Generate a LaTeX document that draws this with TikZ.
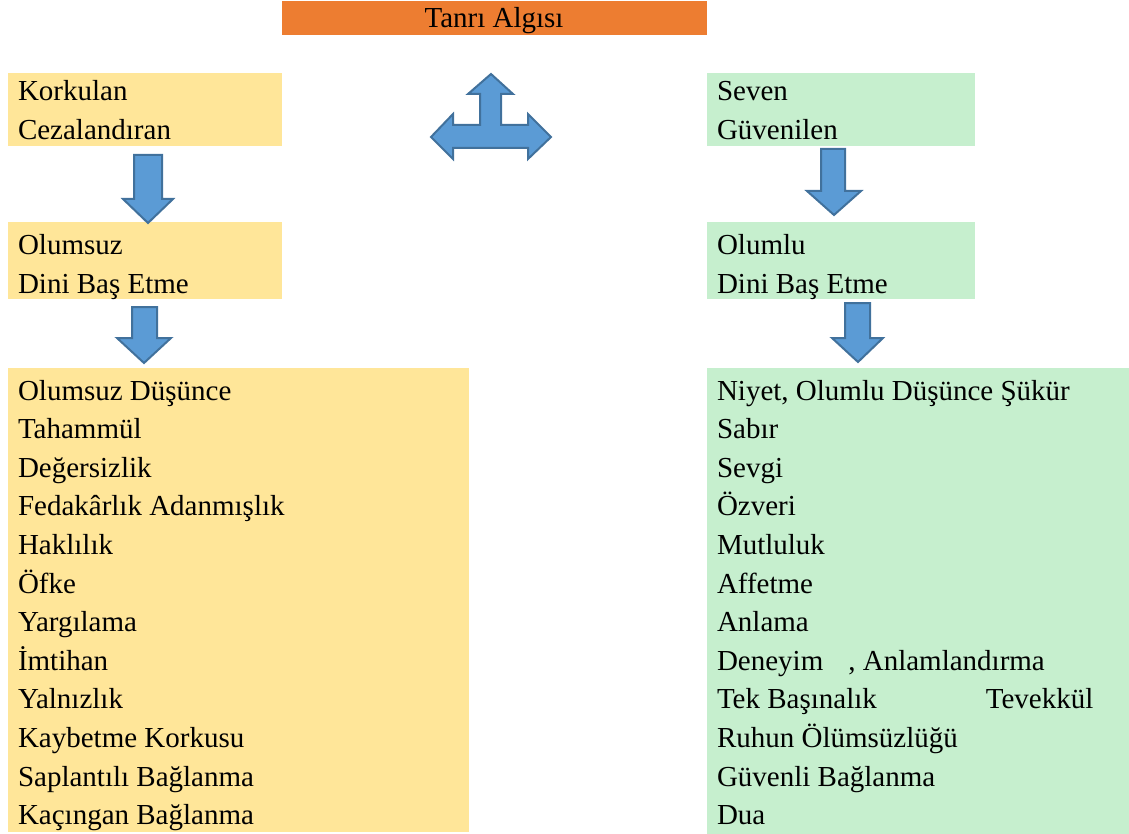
\documentclass[tikz,border=0pt]{standalone}
\usepackage{fontspec}
\setmainfont{Liberation Serif}
\definecolor{orangebar}{HTML}{ED7D31}
\definecolor{yellowbox}{HTML}{FFE699}
\definecolor{greenbox}{HTML}{C6EFCE}
\definecolor{arrowfill}{HTML}{5B9BD5}
\definecolor{arrowline}{HTML}{41719C}
\tikzset{
  box/.style={draw=none, inner sep=0pt, outer sep=0pt, anchor=north west},
  ybox/.style={box, fill=yellowbox},
  gbox/.style={box, fill=greenbox},
  txt/.style={inner sep=0pt, outer sep=0pt, anchor=base west, font=\fontsize{29}{34}\selectfont},
  blockarrow/.style={fill=arrowfill, draw=arrowline, line width=2pt, line join=miter}
}
\begin{document}
\begin{tikzpicture}[x=1pt,y=-1pt]
\useasboundingbox (0,0) rectangle (1129,834);
% title
\node[box, fill=orangebar, minimum width=425pt, minimum height=34pt] (title) at (282,1) {};
\node[txt, anchor=base] (titlet) at (494,28) {Tanrı Algısı};
% boxes
\node[ybox, minimum width=274pt, minimum height=73pt] (L1) at (8,73) {};
\node[gbox, minimum width=268pt, minimum height=73pt] (R1) at (707,73) {};
\node[ybox, minimum width=274pt, minimum height=77pt] (L2) at (8,222) {};
\node[gbox, minimum width=268pt, minimum height=77pt] (R2) at (707,222) {};
\node[ybox, minimum width=461pt, minimum height=464pt] (L3) at (8,368) {};
\node[gbox, minimum width=422pt, minimum height=466pt] (R3) at (707,368) {};
% texts
\node[txt] (L1a) at (18,101) {Korkulan};
\node[txt] (L1b) at (18,139.5) {Cezalandıran};
\node[txt] (R1a) at (717,101) {Seven};
\node[txt] (R1b) at (717,139.5) {Güvenilen};
\node[txt] (L2a) at (18,254.5) {Olumsuz};
\node[txt] (L2b) at (18,293) {Dini Baş Etme};
\node[txt] (R2a) at (717,254.5) {Olumlu};
\node[txt] (R2b) at (717,293) {Dini Baş Etme};
\foreach \t [count=\i] in {Olumsuz Düşünce, Tahammül, Değersizlik, Fedakârlık Adanmışlık, Haklılık, Öfke, Yargılama, İmtihan, Yalnızlık, Kaybetme Korkusu, Saplantılı Bağlanma, Kaçıngan Bağlanma}
  \node[txt] (L3t\i) at (18,{400+(\i-1)*38.6}) {\t};
\foreach \t [count=\i] in {{Niyet, Olumlu Düşünce Şükür}, Sabır, Sevgi, Özveri, Mutluluk, Affetme, Anlama, {Deneyim\hspace*{25pt}, Anlamlandırma}, {Tek Başınalık\hspace*{109pt}Tevekkül}, Ruhun Ölümsüzlüğü, Güvenli Bağlanma, Dua}
  \node[txt] (R3t\i) at (717,{400+(\i-1)*38.6}) {\t};
% block arrows
\draw[blockarrow] (134,155) -- (162,155) -- (162,199) -- (173,199) -- (148,223) -- (123,199) -- (134,199) -- cycle;
\draw[blockarrow] (132,307) -- (157,307) -- (157,338) -- (171,338) -- (144,363) -- (117,338) -- (132,338) -- cycle;
\draw[blockarrow] (821,149) -- (845,149) -- (845,191) -- (861,191) -- (834,215) -- (807,191) -- (821,191) -- cycle;
\draw[blockarrow] (845,303) -- (870,303) -- (870,338) -- (883,338) -- (858,362) -- (832,338) -- (845,338) -- cycle;
\draw[blockarrow] (491,74) -- (513,94) -- (501,94) -- (501,125) -- (528,125) -- (528,114) -- (551,137) -- (528,159) -- (528,148)
  -- (453,148) -- (453,159) -- (431,137) -- (453,114) -- (453,125) -- (480,125) -- (480,94) -- (468,94) -- cycle;
\end{tikzpicture}
\end{document}
